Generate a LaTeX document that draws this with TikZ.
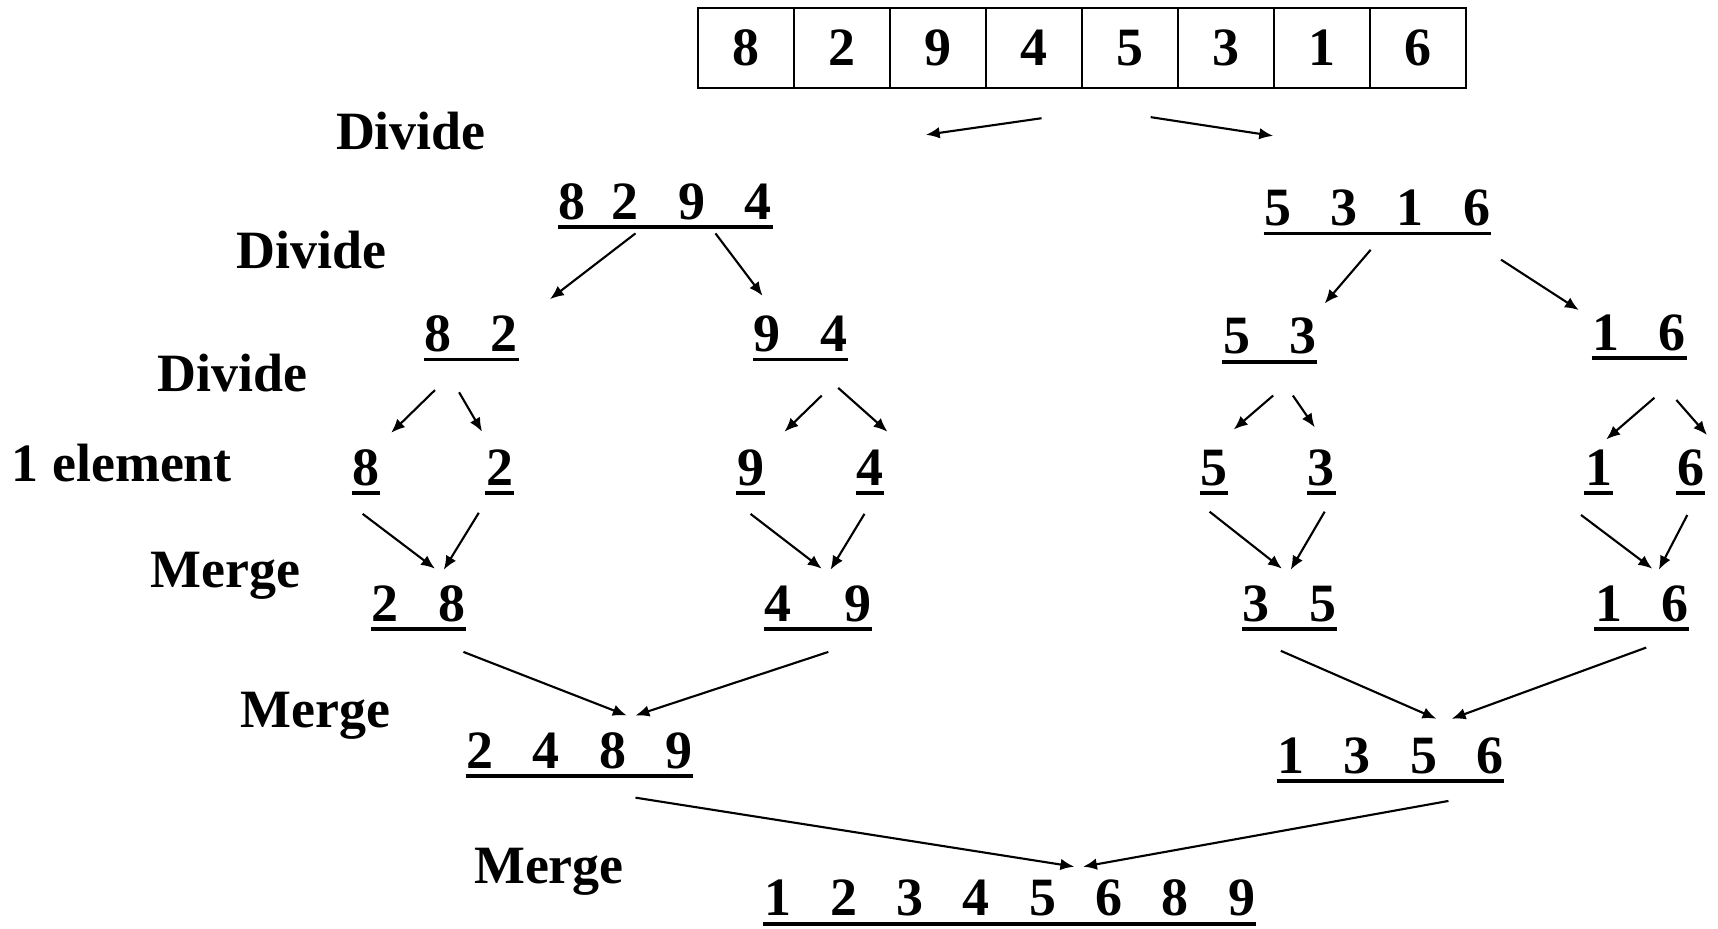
\documentclass[tikz,border=0pt]{standalone}
\usepackage{fontspec}
\setmainfont{Liberation Serif}
\usetikzlibrary{arrows.meta}
\newcommand\gp{\hspace{10.2pt}}
\newcommand\ulgrp[1]{\draw[ul] ([yshift=-2pt]#1.base west) -- ([yshift=-2pt]#1.base east);}
\begin{document}
\begin{tikzpicture}[x=0.01cm,y=-0.01cm,
  every node/.style={font=\fontsize{14}{16}\selectfont\bfseries},
  cell/.style={draw,line width=0.5pt,minimum width=0.876cm,minimum height=0.73cm,inner sep=0},
  grp/.style={inner sep=0,anchor=base},
  lbl/.style={inner sep=0,anchor=base west},
  arr/.style={line width=0.55pt,-{Latex[length=3.6pt,width=3pt]}},
  ul/.style={line width=1pt}]
\useasboundingbox (0,0) rectangle (1568,847);

% top array
\foreach \v [count=\i] in {8,2,9,4,5,3,1,6}
  \node[cell] (c\i) at ({680.8+87.6*(\i-1)},43.5) {\v};

% labels
\node[lbl] (d1) at (306,136) {Divide};
\node[lbl] (d2) at (215,245) {Divide};
\node[lbl] (d3) at (143,357) {Divide};
\node[lbl] (one) at (10,439) {1 element};
\node[lbl] (mg1) at (137,536) {Merge};
\node[lbl] (mg2) at (219,664) {Merge};
\node[lbl] (mg3) at (432,806) {Merge};

% level 1
\node[grp] (g1) at (607,200) {8\hspace{6.9pt}2\hspace{10.4pt}9\hspace{10.1pt}4};
\node[grp] (g2) at (1257,206) {5\gp3\gp1\gp6};
% level 2
\node[grp] (g3) at (430,321) {8\gp2};
\node[grp] (g4) at (730.5,321) {9\gp4};
\node[grp] (g5) at (1159,323) {5\gp3};
\node[grp] (g6) at (1496,320) {1\gp6};
% singles
\node[grp] (s8) at (334,443) {8};
\node[grp] (s2) at (456,443) {2};
\node[grp] (s9) at (685,443) {9};
\node[grp] (s4) at (794,443) {4};
\node[grp] (s5) at (1108,443) {5};
\node[grp] (s3) at (1206,443) {3};
\node[grp] (s1) at (1459,443) {1};
\node[grp] (s6) at (1543,443) {6};
% merges
\node[grp] (m1) at (382,567) {2\gp8};
\node[grp] (m2) at (746.5,567) {4\hspace{13.8pt}9};
\node[grp] (m3) at (1177,567) {3\gp5};
\node[grp] (m4) at (1498.5,567) {1\gp6};
\node[grp] (r1) at (529,701) {2\gp4\gp8\gp9};
\node[grp] (r2) at (1269,706) {1\gp3\gp5\gp6};
\node[grp] (f) at (921.5,836) {1\gp2\gp3\gp4\gp5\gp6\gp8\gp9};

\foreach \n in {g1,g2,g3,g4,g5,g6,s8,s2,s9,s4,s5,s3,s1,s6,m1,m2,m3,m4,r1,r2,f}
  {\ulgrp{\n}}

% arrows
\draw[arr] ([shift={(7,27)}]c4.south) -- ([shift={(238,-77)}]g1.base);
\draw[arr] ([shift={(19,26)}]c5.south) -- ([shift={(-95,-82)}]g2.base);

\draw[arr] ([shift={(-27,13)}]g1.base) -- ([shift={(72,-48)}]g3.base);
\draw[arr] ([shift={(46,13)}]g1.base) -- ([shift={(-34.5,-51)}]g4.base);
\draw[arr] ([shift={(-6,22)}]g2.base) -- ([shift={(50,-46)}]g5.base);
\draw[arr] ([shift={(113,31)}]g2.base) -- ([shift={(-55,-37)}]g6.base);

\draw[arr] ([shift={(-33,35)}]g3.base) -- ([shift={(23,-48)}]s8.base);
\draw[arr] ([shift={(-11,37)}]g3.base) -- ([shift={(-16,-49)}]s2.base);
\draw[arr] ([shift={(19.5,40)}]g4.base) -- ([shift={(31,-49)}]s9.base);
\draw[arr] ([shift={(34.5,33)}]g4.base) -- ([shift={(16,-49)}]s4.base);
\draw[arr] ([shift={(3,38)}]g5.base) -- ([shift={(18,-51)}]s5.base);
\draw[arr] ([shift={(21,38)}]g5.base) -- ([shift={(-6,-53)}]s3.base);
\draw[arr] ([shift={(14,43)}]g6.base) -- ([shift={(7,-42)}]s1.base);
\draw[arr] ([shift={(34,45)}]g6.base) -- ([shift={(15,-46)}]s6.base);

\draw[arr] ([shift={(-3,26)}]s8.base) -- ([shift={(15,-48)}]m1.base);
\draw[arr] ([shift={(-19,25)}]s2.base) -- ([shift={(23,-47)}]m1.base);
\draw[arr] ([shift={(0,26)}]s9.base) -- ([shift={(3.5,-48)}]m2.base);
\draw[arr] ([shift={(-5,26)}]s4.base) -- ([shift={(11.5,-47)}]m2.base);
\draw[arr] ([shift={(-4,24)}]s5.base) -- ([shift={(-7,-48)}]m3.base);
\draw[arr] ([shift={(3,24)}]s3.base) -- ([shift={(1,-47)}]m3.base);
\draw[arr] ([shift={(-16,27)}]s1.base) -- ([shift={(9.5,-48)}]m4.base);
\draw[arr] ([shift={(-3,27)}]s6.base) -- ([shift={(15.5,-47)}]m4.base);

\draw[arr] ([shift={(41,28)}]m1.base) -- ([shift={(43,-48)}]r1.base);
\draw[arr] ([shift={(9.5,28)}]m2.base) -- ([shift={(51,-48)}]r1.base);
\draw[arr] ([shift={(-8,27)}]m3.base) -- ([shift={(42,-50)}]r2.base);
\draw[arr] ([shift={(4,24)}]m4.base) -- ([shift={(56,-50)}]r2.base);

\draw[arr] ([shift={(51,27)}]r1.base) -- ([shift={(59,-45)}]f.base);
\draw[arr] ([shift={(53,25)}]r2.base) -- ([shift={(67,-45)}]f.base);
\end{tikzpicture}
\end{document}
